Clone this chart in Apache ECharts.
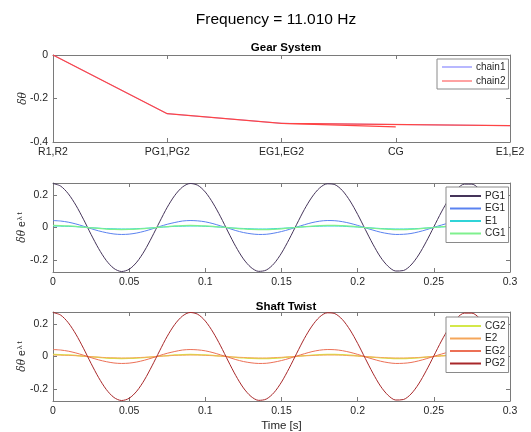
<!DOCTYPE html>
<html>
<head>
<meta charset="utf-8">
<script src="https://cdn.jsdelivr.net/npm/echarts@6/dist/echarts.min.js"></script>
<style>html,body{margin:0;padding:0;background:#fff}#c{width:531px;height:432px}</style>
</head>
<body>
<div id="c"></div>
<script>
const mainTitle = 'Frequency = 11.010 Hz';
const gearCategories = ['R1,R2', 'PG1,PG2', 'EG1,EG2', 'CG', 'E1,E2'];
const chain1 = [0, -0.27, -0.314, null, -0.325];
const chain2 = [0, -0.27, -0.314, null, -0.325];
const chain2Branch = [null, null, -0.314, -0.33, null];

const time = [0,0.005,0.01,0.015,0.02,0.025,0.03,0.035,0.04,0.045,0.05,0.055,0.06,0.065,0.07,0.075,0.08,0.085,0.09,0.095,0.1,0.105,0.11,0.115,0.12,0.125,0.13,0.135,0.14,0.145,0.15,0.155,0.16,0.165,0.17,0.175,0.18,0.185,0.19,0.195,0.2,0.205,0.21,0.215,0.22,0.225,0.23,0.235,0.24,0.245,0.25,0.255,0.26,0.265,0.27,0.275,0.28,0.285,0.29];
const pg1 = [0.272,0.256,0.209,0.138,0.051,-0.043,-0.131,-0.204,-0.253,-0.272,-0.258,-0.214,-0.145,-0.058,0.035,0.125,0.199,0.250,0.272,0.261,0.219,0.151,0.066,-0.028,-0.118,-0.194,-0.247,-0.271,-0.263,-0.224,-0.158,-0.073,0.020,0.111,0.188,0.244,0.270,0.265,0.228,0.164,0.081,-0.012,-0.103,-0.183,-0.240,-0.269,-0.266,-0.232,-0.170,-0.088,0.004,0.096,0.177,0.236,0.268,0.268,0.236,0.176,0.096];
const eg1 = [0.043,0.040,0.033,0.022,0.008,-0.007,-0.021,-0.032,-0.040,-0.043,-0.041,-0.034,-0.023,-0.009,0.006,0.020,0.031,0.040,0.043,0.041,0.035,0.024,0.010,-0.004,-0.019,-0.031,-0.039,-0.043,-0.042,-0.035,-0.025,-0.012,0.003,0.017,0.030,0.039,0.043,0.042,0.036,0.026,0.013,-0.002,-0.016,-0.029,-0.038,-0.043,-0.042,-0.037,-0.027,-0.014,0.001,0.015,0.028,0.037,0.042,0.042,0.037,0.028,0.015];
const e1 = [0.009,0.008,0.007,0.005,0.002,-0.001,-0.004,-0.007,-0.008,-0.009,-0.009,-0.007,-0.005,-0.002,0.001,0.004,0.007,0.008,0.009,0.009,0.007,0.005,0.002,-0.001,-0.004,-0.006,-0.008,-0.009,-0.009,-0.007,-0.005,-0.002,0.001,0.004,0.006,0.008,0.009,0.009,0.008,0.005,0.003,0.000,-0.003,-0.006,-0.008,-0.009,-0.009,-0.008,-0.006,-0.003,0.000,0.003,0.006,0.008,0.009,0.009,0.008,0.006,0.003];
const cg1 = [0.013,0.012,0.010,0.007,0.002,-0.002,-0.006,-0.010,-0.012,-0.013,-0.012,-0.010,-0.007,-0.003,0.002,0.006,0.010,0.012,0.013,0.012,0.010,0.007,0.003,-0.001,-0.006,-0.009,-0.012,-0.013,-0.013,-0.011,-0.008,-0.004,0.001,0.005,0.009,0.012,0.013,0.013,0.011,0.008,0.004,-0.001,-0.005,-0.009,-0.011,-0.013,-0.013,-0.011,-0.008,-0.004,0.000,0.005,0.008,0.011,0.013,0.013,0.011,0.008,0.005];
const cg2 = [0.013,0.012,0.010,0.007,0.002,-0.002,-0.006,-0.010,-0.012,-0.013,-0.012,-0.010,-0.007,-0.003,0.002,0.006,0.010,0.012,0.013,0.012,0.010,0.007,0.003,-0.001,-0.006,-0.009,-0.012,-0.013,-0.013,-0.011,-0.008,-0.004,0.001,0.005,0.009,0.012,0.013,0.013,0.011,0.008,0.004,-0.001,-0.005,-0.009,-0.011,-0.013,-0.013,-0.011,-0.008,-0.004,0.000,0.005,0.008,0.011,0.013,0.013,0.011,0.008,0.005];
const e2 = [0.009,0.008,0.007,0.005,0.002,-0.001,-0.004,-0.007,-0.008,-0.009,-0.009,-0.007,-0.005,-0.002,0.001,0.004,0.007,0.008,0.009,0.009,0.007,0.005,0.002,-0.001,-0.004,-0.006,-0.008,-0.009,-0.009,-0.007,-0.005,-0.002,0.001,0.004,0.006,0.008,0.009,0.009,0.008,0.005,0.003,0.000,-0.003,-0.006,-0.008,-0.009,-0.009,-0.008,-0.006,-0.003,0.000,0.003,0.006,0.008,0.009,0.009,0.008,0.006,0.003];
const eg2 = [0.043,0.040,0.033,0.022,0.008,-0.007,-0.021,-0.032,-0.040,-0.043,-0.041,-0.034,-0.023,-0.009,0.006,0.020,0.031,0.040,0.043,0.041,0.035,0.024,0.010,-0.004,-0.019,-0.031,-0.039,-0.043,-0.042,-0.035,-0.025,-0.012,0.003,0.017,0.030,0.039,0.043,0.042,0.036,0.026,0.013,-0.002,-0.016,-0.029,-0.038,-0.043,-0.042,-0.037,-0.027,-0.014,0.001,0.015,0.028,0.037,0.042,0.042,0.037,0.028,0.015];
const pg2 = [0.272,0.256,0.209,0.138,0.051,-0.043,-0.131,-0.204,-0.253,-0.272,-0.258,-0.214,-0.145,-0.058,0.035,0.125,0.199,0.250,0.272,0.261,0.219,0.151,0.066,-0.028,-0.118,-0.194,-0.247,-0.271,-0.263,-0.224,-0.158,-0.073,0.020,0.111,0.188,0.244,0.270,0.265,0.228,0.164,0.081,-0.012,-0.103,-0.183,-0.240,-0.269,-0.266,-0.232,-0.170,-0.088,0.004,0.096,0.177,0.236,0.268,0.268,0.236,0.176,0.096];
const timeTicks = [0, 0.05, 0.1, 0.15, 0.2, 0.25, 0.3];
const gearTicks = [-0.4, -0.2, 0];
const modeTicks = [-0.2, 0, 0.2];

const FONT = '"Liberation Sans", Arial, sans-serif';
const AX = '#7a7a7a';
const TXT = '#262626';

function pairs(xs, ys) { return xs.map((x, i) => [x, ys[i]]); }

const grids = [
  { left: 53, right: 21, top: 55, height: 87, outerBoundsMode: 'none', containLabel: false },
  { left: 53, right: 21, top: 183, height: 89, outerBoundsMode: 'none', containLabel: false },
  { left: 53, right: 21, top: 312, height: 89, outerBoundsMode: 'none', containLabel: false }
];

function boxAxis(extra) {
  return Object.assign({
    axisLine: { show: true, onZero: false, lineStyle: { color: AX, width: 1 } },
    axisTick: { show: true, inside: true, length: 4, lineStyle: { color: AX } },
    splitLine: { show: false },
    nameMoveOverlap: false,
    axisLabel: { show: true, color: TXT, fontFamily: FONT, fontSize: 10.5 }
  }, extra);
}

const xAxes = [
  boxAxis({ type: 'category', gridIndex: 0, data: gearCategories, boundaryGap: false, position: 'bottom',
    axisTick: { show: true, inside: true, length: 4, alignWithLabel: true, lineStyle: { color: AX } },
    axisLabel: { show: true, color: TXT, fontFamily: FONT, fontSize: 10.5, margin: 5, interval: 0 } }),
  boxAxis({ type: 'category', gridIndex: 0, data: gearCategories, boundaryGap: false, position: 'top', axisLabel: { show: false } }),
  boxAxis({ type: 'value', gridIndex: 1, min: 0, max: 0.3, interval: 0.05, position: 'bottom',
    axisLabel: { show: true, color: TXT, fontFamily: FONT, fontSize: 10.5, margin: 5 } }),
  boxAxis({ type: 'value', gridIndex: 1, min: 0, max: 0.3, interval: 0.05, position: 'top', axisLabel: { show: false } }),
  boxAxis({ type: 'value', gridIndex: 2, min: 0, max: 0.3, interval: 0.05, position: 'bottom',
    axisLabel: { show: true, color: TXT, fontFamily: FONT, fontSize: 10.5, margin: 5 },
    name: 'Time [s]', nameLocation: 'middle', nameGap: 18.5,
    nameTextStyle: { color: TXT, fontFamily: FONT, fontSize: 11.5 } }),
  boxAxis({ type: 'value', gridIndex: 2, min: 0, max: 0.3, interval: 0.05, position: 'top', axisLabel: { show: false } })
];

const modeLabel = {
  name: '{i|δθ} e{s|λ t}', nameLocation: 'middle', nameRotate: 90, nameGap: 24,
  nameTextStyle: { color: TXT, fontFamily: FONT, fontSize: 10.5,
    rich: { i: { fontStyle: 'italic', fontFamily: '"DejaVu Serif", serif', fontSize: 10.5, color: TXT },
            s: { fontSize: 7.5, color: TXT, padding: [0, 0, 5, 1], fontFamily: FONT } } }
};

const yAxes = [
  boxAxis({ type: 'value', gridIndex: 0, min: -0.4, max: 0, interval: 0.2, position: 'left',
    axisLabel: { show: true, color: TXT, fontFamily: FONT, fontSize: 10.5, margin: 5,
      formatter: v => (Math.abs(v) < 1e-9 ? '0' : String(Math.round(v * 10) / 10)) },
    name: 'δθ', nameLocation: 'middle', nameRotate: 90, nameGap: 24,
    nameTextStyle: { color: TXT, fontFamily: '"DejaVu Serif", serif', fontStyle: 'italic', fontSize: 10.5 } }),
  boxAxis({ type: 'value', gridIndex: 0, min: -0.4, max: 0, interval: 0.2, position: 'right', axisLabel: { show: false } }),
  boxAxis(Object.assign({ type: 'value', gridIndex: 1, min: -0.275, max: 0.275, position: 'left',
    axisTick: { show: true, inside: true, length: 4, customValues: modeTicks, lineStyle: { color: AX } },
    axisLabel: { show: true, color: TXT, fontFamily: FONT, fontSize: 10.5, margin: 5, customValues: modeTicks,
      formatter: v => (Math.abs(v) < 1e-9 ? '0' : String(Math.round(v * 10) / 10)) } }, modeLabel)),
  boxAxis({ type: 'value', gridIndex: 1, min: -0.275, max: 0.275, position: 'right',
    axisTick: { show: true, inside: true, length: 4, customValues: modeTicks, lineStyle: { color: AX } },
    axisLabel: { show: false } }),
  boxAxis(Object.assign({ type: 'value', gridIndex: 2, min: -0.275, max: 0.275, position: 'left',
    axisTick: { show: true, inside: true, length: 4, customValues: modeTicks, lineStyle: { color: AX } },
    axisLabel: { show: true, color: TXT, fontFamily: FONT, fontSize: 10.5, margin: 5, customValues: modeTicks,
      formatter: v => (Math.abs(v) < 1e-9 ? '0' : String(Math.round(v * 10) / 10)) } }, modeLabel)),
  boxAxis({ type: 'value', gridIndex: 2, min: -0.275, max: 0.275, position: 'right',
    axisTick: { show: true, inside: true, length: 4, customValues: modeTicks, lineStyle: { color: AX } },
    axisLabel: { show: false } })
];

function line(name, data, color, xi, yi, width, z, extra) {
  return Object.assign({ type: 'line', name, data, xAxisIndex: xi, yAxisIndex: yi, symbol: 'none',
    smooth: xi > 1 ? 0.3 : false, connectNulls: true, animation: false, z: z || 2,
    lineStyle: { color, width: width || 1 }, itemStyle: { color } }, extra || {});
}

const series = [
  line('chain1', chain1, '#7070ff', 0, 0, 0.6, 2),
  line('chain2', chain2, '#ff4444', 0, 0, 1.3, 3),
  line('chain2', chain2Branch, '#ff4444', 0, 0, 1.3, 3),
  line('PG1', pairs(time, pg1), '#45345a', 2, 2, 1, 2),
  line('EG1', pairs(time, eg1), '#5a82f0', 2, 2, 1, 3),
  line('E1', pairs(time, e1), '#30d4d8', 2, 2, 1, 4),
  line('CG1', pairs(time, cg1), '#7ff08e', 2, 2, 1.2, 5),
  line('CG2', pairs(time, cg2), '#d4e84a', 4, 4, 1.2, 2),
  line('E2', pairs(time, e2), '#f5a65a', 4, 4, 1, 3),
  line('EG2', pairs(time, eg2), '#ec7056', 4, 4, 1, 4),
  line('PG2', pairs(time, pg2), '#a8282a', 4, 4, 1, 5)
];

const legendBase = {
  orient: 'vertical', backgroundColor: '#fff', borderColor: '#8a8a8a', borderWidth: 1,
  icon: 'rect', itemWidth: 31, itemHeight: 2, align: 'left',
  textStyle: { color: TXT, fontFamily: FONT, fontSize: 10, lineHeight: 12, padding: [0, 0, 0, -1] },
  selectedMode: false, z: 10
};

const option = {
  backgroundColor: '#fff',
  animation: false,
  title: [
    { text: mainTitle, left: 271, top: 7, textAlign: 'center',
      textStyle: { fontFamily: FONT, fontSize: 15.5, fontWeight: 'normal', color: '#000' } },
    { text: 'Gear System', left: 281, top: 37, textAlign: 'center',
      textStyle: { fontFamily: FONT, fontSize: 11.5, fontWeight: 'bold', color: '#000' } },
    { text: 'Shaft Twist', left: 281, top: 296, textAlign: 'center',
      textStyle: { fontFamily: FONT, fontSize: 11.5, fontWeight: 'bold', color: '#000' } }
  ],
  grid: grids,
  xAxis: xAxes,
  yAxis: yAxes,
  legend: [
    Object.assign({}, legendBase, { data: ['chain1', 'chain2'], left: 437, top: 59, padding: [2, 3, 2, 5], itemGap: 2, itemHeight: 1, itemWidth: 30 }),
    Object.assign({}, legendBase, { data: ['PG1', 'EG1', 'E1', 'CG1'], left: 446, top: 187, padding: [3, 3, 3, 4], itemGap: 0.5 }),
    Object.assign({}, legendBase, { data: ['CG2', 'E2', 'EG2', 'PG2'], left: 446, top: 317, padding: [3, 3, 3, 4], itemGap: 0.5 })
  ],
  series
};

const chart = echarts.init(document.getElementById('c'), null, { renderer: 'canvas' });
chart.setOption(option);
</script>
</body>
</html>
